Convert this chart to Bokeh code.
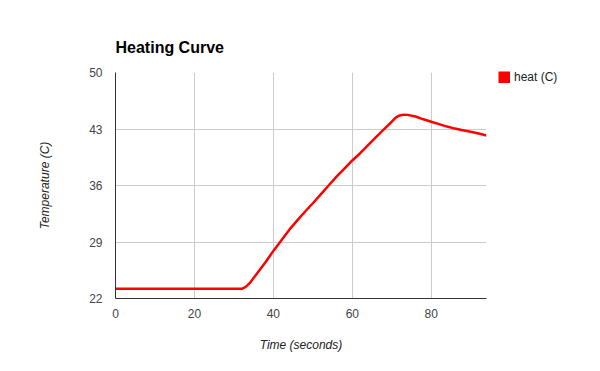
from bokeh.plotting import figure
from bokeh.models import Range1d, FixedTicker, Legend, LegendItem
from bokeh.embed import file_html
from bokeh.resources import INLINE

# Data
time_s = [0, 2, 4, 6, 8, 10, 12, 14, 16, 18, 20, 22, 24, 26, 28, 30, 32, 33, 34, 36,
          38, 40, 42, 44, 46, 48, 50, 52, 54, 56, 58, 60, 62, 64, 66, 68, 70, 71, 72,
          73, 74, 76, 78, 80, 82, 84, 86, 88, 90, 92, 94]
heat_c = [23.2, 23.2, 23.2, 23.2, 23.2, 23.2, 23.2, 23.2, 23.2, 23.2,
          23.2, 23.2, 23.2, 23.2, 23.2, 23.2, 23.2, 23.45, 23.9, 25.2,
          26.5, 27.9, 29.2, 30.5, 31.65, 32.75, 33.8, 34.9, 36.0, 37.1,
          38.1, 39.1, 40.0, 41.0, 42.0, 42.95, 43.9, 44.4, 44.68,
          44.78, 44.75, 44.55, 44.2, 43.9, 43.6, 43.3, 43.05, 42.85, 42.65, 42.45, 42.2]
x_ticks = [0, 20, 40, 60, 80]
y_ticks = [22, 29, 36, 43, 50]
series_name = "heat (C)"
title_text = "Heating Curve"
x_label = "Time (seconds)"
y_label = "Temperature (C)"

FONT = "Liberation Sans"

p = figure(frame_width=371, frame_height=226, output_backend="svg", toolbar_location=None,
           x_range=Range1d(0, 94), y_range=Range1d(22, 50),
           min_border_left=115, min_border_right=98,
           min_border_top=72, min_border_bottom=57,
           title=title_text)
p.outline_line_color = None
p.background_fill_color = "white"
p.border_fill_color = "white"

p.title.text_font = FONT
p.title.text_font_size = "16px"
p.title.text_font_style = "bold"
p.title.text_color = "#000000"
p.title.align = "left"
p.title.standoff = 34
p.title.offset = 0

for ax in (p.xaxis[0], p.yaxis[0]):
    ax.major_tick_line_color = None
    ax.minor_tick_line_color = None
    ax.major_tick_out = 0
    ax.major_tick_in = 0
    ax.axis_line_color = "#333333"
    ax.axis_line_width = 1
    ax.major_label_text_font = FONT
    ax.major_label_text_font_size = "12px"
    ax.major_label_text_color = "#444444"
    ax.axis_label_text_font = FONT
    ax.axis_label_text_font_size = "12px"
    ax.axis_label_text_font_style = "italic"
    ax.axis_label_text_color = "#222222"

p.xaxis.ticker = FixedTicker(ticks=x_ticks)
p.yaxis.ticker = FixedTicker(ticks=y_ticks)
p.xaxis.axis_label = x_label
p.yaxis.axis_label = y_label
p.xaxis.major_label_standoff = 10
p.yaxis.major_label_standoff = 13
p.xaxis.axis_label_standoff = 17
p.yaxis.axis_label_standoff = 34

p.xgrid.ticker = FixedTicker(ticks=x_ticks)
p.ygrid.ticker = FixedTicker(ticks=y_ticks)
p.grid.grid_line_color = "#cccccc"
p.grid.grid_line_width = 1

p.line(time_s, heat_c, line_color="#ff0000", line_width=2.5, line_join="round")

# legend swatch: a thick dashed line (hidden in the plot) that shows as a 12x12 square
swatch = p.line(time_s, heat_c, line_color="#ff0000", line_width=12, line_cap="butt",
                line_dash="0 12 12 200", visible=False)
legend = Legend(items=[LegendItem(label=series_name, renderers=[swatch])],
                location=(0, 214), orientation="vertical",
                margin=0, padding=0,
                glyph_width=24, glyph_height=12, label_height=12,
                label_standoff=4, spacing=0,
                label_text_font=FONT, label_text_font_size="12px",
                label_text_color="#222222",
                inactive_fill_alpha=0,
                background_fill_alpha=0, border_line_color=None)
p.add_layout(legend, "right")

open("out.html", "w").write(file_html(p, INLINE))
